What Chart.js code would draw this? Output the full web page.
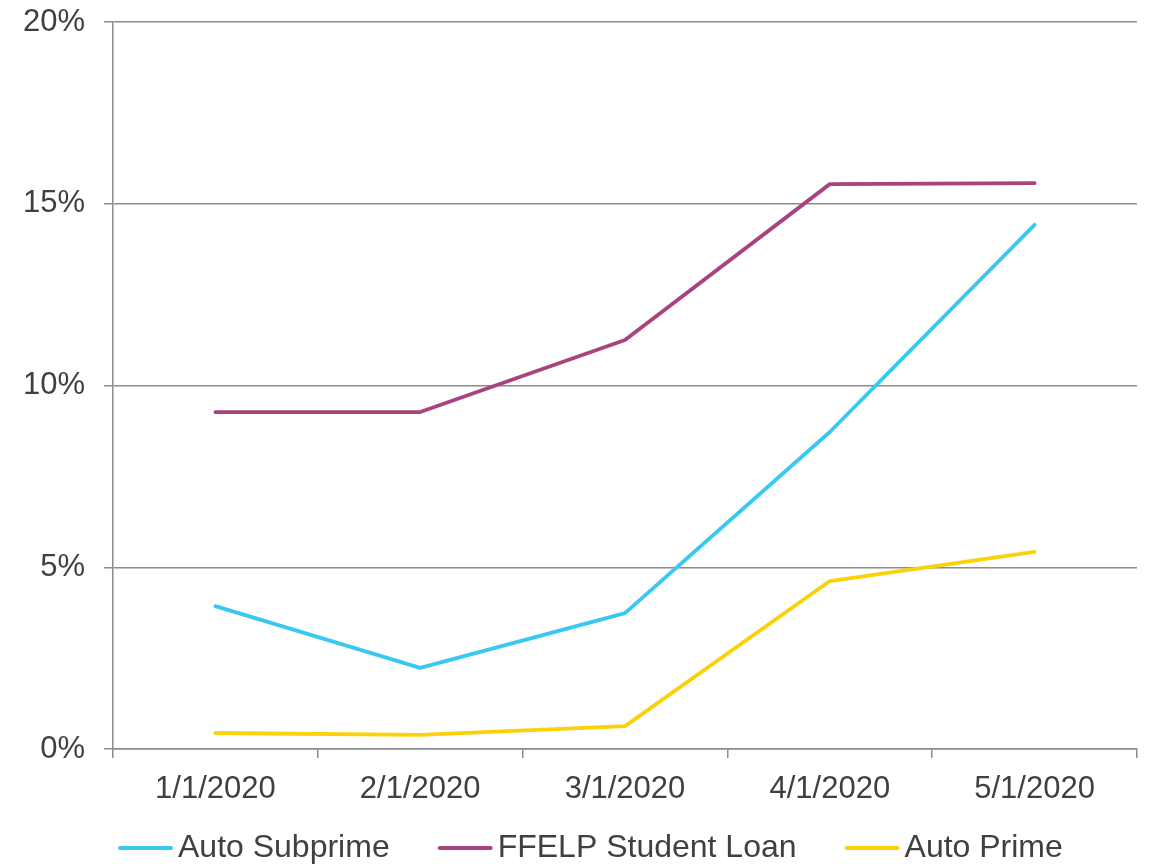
<!DOCTYPE html>
<html>
<head>
<meta charset="utf-8">
<script src="https://cdn.jsdelivr.net/npm/chart.js@4"></script>
<style>
  html, body { margin: 0; padding: 0; background: #ffffff; }
  #wrap { width: 1153px; height: 864px; position: relative; }
</style>
</head>
<body>
<div id="wrap"><canvas id="c" width="1153" height="864"></canvas></div>
<script>
// Monthly categories
const months = ['1/1/2020', '2/1/2020', '3/1/2020', '4/1/2020', '5/1/2020'];

// Rates by loan type (percent)
const autoSubprime = [3.93, 2.23, 3.74, 8.72, 14.42];
const ffelpStudentLoan = [9.27, 9.27, 11.25, 15.54, 15.57];
const autoPrime = [0.44, 0.39, 0.63, 4.62, 5.42];

// Value-axis tick marks
const yTicks = [0, 5, 10, 15, 20];

const fontFamily = '"Liberation Sans", Arial, sans-serif';
const textColor = '#404040';
const gridColor = '#8c8c8c';

function lineSet(label, data, color) {
  return {
    label: label,
    data: data,
    borderColor: color,
    backgroundColor: color,
    borderWidth: 3.8,
    pointRadius: 0,
    pointHoverRadius: 0,
    tension: 0,
    fill: false,
    borderJoinStyle: 'round',
    borderCapStyle: 'round'
  };
}

// Bottom legend: short coloured line, tight label, wide gap between entries
const lineLegend = {
  id: 'lineLegend',
  afterDraw: function (chart, args, opts) {
    const ctx = chart.ctx;
    const y = chart.height - opts.bottomOffset;
    ctx.save();
    ctx.font = opts.fontSize + 'px ' + fontFamily;
    ctx.textBaseline = 'middle';
    ctx.textAlign = 'left';
    let x = opts.startX;
    chart.data.datasets.forEach(function (ds) {
      ctx.strokeStyle = ds.borderColor;
      ctx.lineWidth = 4;
      ctx.lineCap = 'round';
      ctx.beginPath();
      ctx.moveTo(x + 2, y);
      ctx.lineTo(x + opts.lineLength - 2, y);
      ctx.stroke();
      x += opts.lineLength + opts.textGap;
      ctx.fillStyle = textColor;
      ctx.fillText(ds.label, x, y);
      x += ctx.measureText(ds.label).width + opts.itemGap;
    });
    ctx.restore();
  }
};

new Chart(document.getElementById('c'), {
  type: 'line',
  data: {
    labels: months,
    datasets: [
      lineSet('Auto Subprime', autoSubprime, '#38c8f2'),
      lineSet('FFELP Student Loan', ffelpStudentLoan, '#a8437f'),
      lineSet('Auto Prime', autoPrime, '#fbd10a')
    ]
  },
  plugins: [lineLegend],
  options: {
    responsive: false,
    animation: false,
    events: [],
    layout: { padding: { top: 22, right: 16, left: 0, bottom: 62 } },
    plugins: {
      tooltip: { enabled: false },
      legend: { display: false },
      lineLegend: {
        startX: 118,
        bottomOffset: 16,
        fontSize: 32,
        lineLength: 55,
        textGap: 5,
        itemGap: 48
      }
    },
    scales: {
      x: {
        offset: true,
        grid: {
          offset: true,
          drawOnChartArea: false,
          drawTicks: true,
          tickLength: 9,
          color: gridColor,
          lineWidth: 1.5
        },
        border: { display: true, color: gridColor, width: 1.5 },
        ticks: {
          font: { family: fontFamily, size: 31 },
          color: textColor,
          padding: 13,
          maxRotation: 0,
          autoSkip: false
        },
        afterFit: function (scale) { scale.height = 53; }
      },
      y: {
        min: 0,
        max: 20,
        afterBuildTicks: function (scale) {
          scale.ticks = yTicks.map(function (v) { return { value: v }; });
        },
        grid: {
          drawTicks: true,
          tickLength: 9,
          color: gridColor,
          lineWidth: 1.5
        },
        border: { display: true, color: gridColor, width: 1.5 },
        ticks: {
          font: { family: fontFamily, size: 31 },
          color: textColor,
          padding: 19,
          callback: function (v) { return v + '%'; }
        },
        afterFit: function (scale) {
          scale.width = 113;
          scale.paddingTop = 0;
          scale.paddingBottom = 0;
        }
      }
    }
  }
});
</script>
</body>
</html>
